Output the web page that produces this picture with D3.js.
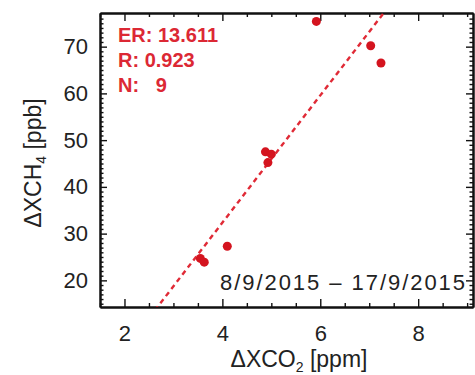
<!DOCTYPE html>
<html>
<head>
<meta charset="utf-8">
<script src="https://cdn.jsdelivr.net/npm/d3@7"></script>
<style>
  body { margin: 0; background: #fff; }
  text { font-family: "Liberation Sans", Arial, sans-serif; }
</style>
</head>
<body>
<div id="chart"></div>
<script>
// ΔXCO2 [ppm] vs ΔXCH4 [ppb]
const dco2 = [5.92, 7.03, 7.24, 4.88, 5.00, 4.93, 3.55, 3.63, 4.10];
const dch4 = [75.4, 70.2, 66.5, 47.5, 47.0, 45.2, 24.7, 23.9, 27.3];
const xTicks = [2, 4, 6, 8];
const yTicks = [20, 30, 40, 50, 60, 70];
const slope = 13.611;
const intercept = -22.1;
const corrR = 0.923;
const period = "8/9/2015 \u2013 17/9/2015";

const W = 475, H = 375;
const margin = {top: 13, right: 2, bottom: 68, left: 100};
const w = W - margin.left - margin.right;
const h = H - margin.top - margin.bottom;
const red = "#d4141f";

const svg = d3.select("#chart").append("svg")
  .attr("width", W).attr("height", H);

const x = d3.scaleLinear().domain([1.5, 9.12]).range([0, w]);
const y = d3.scaleLinear().domain([14.3, 77.2]).range([h, 0]);

const g = svg.append("g")
  .attr("transform", "translate(" + margin.left + "," + margin.top + ")");

g.append("clipPath").attr("id", "clip")
  .append("rect").attr("width", w).attr("height", h);

// minor ticks
const xMinor = d3.range(1.5, 9.1, 0.5).filter(v => xTicks.indexOf(v) < 0);
const yMinor = d3.range(15, 77, 1).filter(v => yTicks.indexOf(v) < 0);

function styleAxis(sel) {
  sel.select(".domain").attr("stroke", "#111").attr("stroke-width", 2);
  sel.selectAll(".tick line").attr("stroke", "#111").attr("stroke-width", 1.4);
  sel.selectAll(".tick text").style("font-size", "22px").attr("fill", "#222");
}

// bottom
g.append("g").attr("transform", "translate(0," + h + ")")
  .call(d3.axisBottom(x).tickValues(xMinor).tickSize(-4).tickSizeOuter(0).tickFormat(""))
  .call(styleAxis);
g.append("g").attr("transform", "translate(0," + h + ")")
  .call(d3.axisBottom(x).tickValues(xTicks).tickSize(-8).tickSizeOuter(0).tickPadding(18).tickFormat(d3.format("d")))
  .call(styleAxis);
// top
g.append("g")
  .call(d3.axisTop(x).tickValues(xMinor).tickSize(-4).tickSizeOuter(0).tickFormat(""))
  .call(styleAxis);
g.append("g")
  .call(d3.axisTop(x).tickValues(xTicks).tickSize(-8).tickSizeOuter(0).tickFormat(""))
  .call(styleAxis);
// left
g.append("g")
  .call(d3.axisLeft(y).tickValues(yMinor).tickSize(-3.5).tickSizeOuter(0).tickFormat(""))
  .call(styleAxis);
g.append("g")
  .call(d3.axisLeft(y).tickValues(yTicks).tickSize(-7).tickSizeOuter(0).tickPadding(12).tickFormat(d3.format("d")))
  .call(styleAxis);
// right
g.append("g").attr("transform", "translate(" + w + ",0)")
  .call(d3.axisRight(y).tickValues(yMinor).tickSize(-3.5).tickSizeOuter(0).tickFormat(""))
  .call(styleAxis);
g.append("g").attr("transform", "translate(" + w + ",0)")
  .call(d3.axisRight(y).tickValues(yTicks).tickSize(-7).tickSizeOuter(0).tickFormat(""))
  .call(styleAxis);

// fit line
const fx = x.domain();
g.append("line")
  .attr("clip-path", "url(#clip)")
  .attr("x1", x(fx[0])).attr("y1", y(slope * fx[0] + intercept))
  .attr("x2", x(fx[1])).attr("y2", y(slope * fx[1] + intercept))
  .attr("stroke", "#e02a36").attr("stroke-width", 2.4)
  .attr("stroke-dasharray", "5,4");

// points
g.selectAll(".pt")
  .data(dco2)
  .enter().append("circle")
    .attr("class", "pt")
    .attr("cx", d => x(d))
    .attr("cy", (d, i) => y(dch4[i]))
    .attr("r", 4.5)
    .attr("fill", red);

// stats
const stats = ["ER: " + slope.toFixed(3), "R: " + corrR.toFixed(3), "N:   " + dco2.length];
g.selectAll(".stat")
  .data(stats)
  .enter().append("text")
    .attr("class", "stat")
    .attr("x", 18)
    .attr("y", (d, i) => 29 + i * 25)
    .style("white-space", "pre")
    .style("font-size", "20px")
    .style("font-weight", "bold")
    .attr("fill", "#dc2834")
    .text(d => d);

// period
g.append("text")
  .attr("x", 120).attr("y", 277)
  .attr("textLength", 245).attr("lengthAdjust", "spacing")
  .style("font-size", "22px")
  .attr("fill", "#222")
  .text(period);

// axis titles
const xt = svg.append("text")
  .attr("x", 299).attr("y", 367)
  .attr("text-anchor", "middle")
  .style("font-size", "23px")
  .attr("fill", "#222");
xt.append("tspan").text("\u0394XCO");
xt.append("tspan").text("2").style("font-size", "14px").attr("dy", 5);
xt.append("tspan").text(" [ppm]").attr("dy", -5);

const yt = svg.append("text")
  .attr("transform", "translate(41,163) rotate(-90)")
  .attr("text-anchor", "middle")
  .style("font-size", "23px")
  .attr("fill", "#222");
yt.append("tspan").text("\u0394XCH");
yt.append("tspan").text("4").style("font-size", "14px").attr("dy", 5);
yt.append("tspan").text(" [ppb]").attr("dy", -5);
</script>
</body>
</html>
